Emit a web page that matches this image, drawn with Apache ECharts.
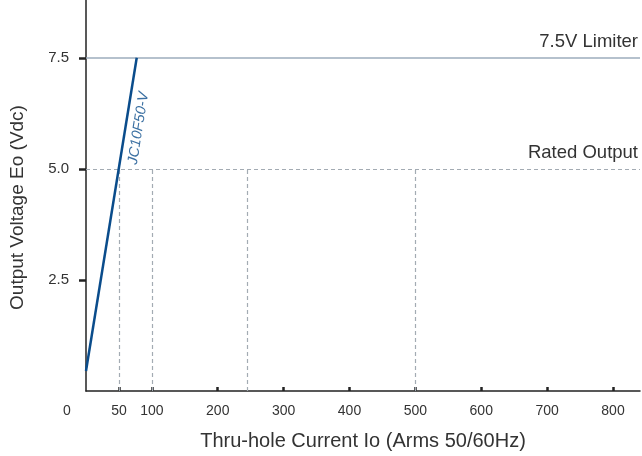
<!DOCTYPE html>
<html><head><meta charset="utf-8">
<script src="https://cdn.jsdelivr.net/npm/echarts@6/dist/echarts.min.js"></script>
<style>html,body{margin:0;padding:0;background:#fff}#c{width:642px;height:456px}</style>
</head><body><div id="c"></div>
<script>
const xLabelValues = [0, 50, 100, 200, 300, 400, 500, 600, 700, 800];
const xTickValues = [50, 100, 200, 300, 400, 500, 600, 700, 800];
const yTickValues = [2.5, 5.0, 7.5];
const curveName = 'JC10F50-V';
const curvePoints = [[0, 0.45], [77, 7.5]];
const curveLabelPoint = [[60.2, 5.96]];
const limiterVoltage = 7.5;
const limiterLabel = '7.5V Limiter';
const ratedVoltage = 5.0;
const ratedLabel = 'Rated Output';
const ratedCurrents = [50, 100, 245, 500];
const xTitle = 'Thru-hole Current Io (Arms 50/60Hz)';
const yTitle = 'Output Voltage Eo (Vdc)';

const font = 'Liberation Sans, Arial, sans-serif';
const chart = echarts.init(document.getElementById('c'), null, {renderer: 'canvas'});
chart.setOption({
  animation: false,
  grid: {left: 86, right: 2, top: 0, bottom: 65, outerBoundsMode: 'none', containLabel: false},
  xAxis: {
    type: 'value', min: 0, max: 841,
    name: xTitle, nameLocation: 'middle', nameGap: 40,
    nameTextStyle: {fontFamily: font, fontSize: 20, color: '#333'},
    axisLine: {lineStyle: {color: '#222', width: 1.5}},
    splitLine: {show: false},
    axisTick: {show: true, inside: true, length: 4, customValues: xTickValues, lineStyle: {color: '#222', width: 2.5}},
    axisLabel: {
      customValues: xLabelValues, margin: 13,
      fontFamily: font, fontSize: 14, color: '#333',
      formatter: v => v === 0 ? '{z|0}' : String(v),
      rich: {z: {fontFamily: font, fontSize: 14, color: '#333', padding: [0, 38, 0, 0]}}
    }
  },
  yAxis: {
    type: 'value', min: 0, max: 8.8,
    name: yTitle, nameLocation: 'middle', nameGap: 59, nameRotate: 90,
    nameTextStyle: {fontFamily: font, fontSize: 19, color: '#333', padding: [0, 24, 0, 0]},
    axisLine: {show: true, lineStyle: {color: '#222', width: 1.5}},
    splitLine: {show: false},
    axisTick: {show: true, length: 7, customValues: yTickValues, lineStyle: {color: '#222', width: 2.5}},
    axisLabel: {customValues: yTickValues, margin: 17, fontFamily: font, fontSize: 15, color: '#333',
      formatter: v => v.toFixed(1)}
  },
  series: [
    {
      type: 'line', name: curveName, data: curvePoints, symbol: 'none',
      lineStyle: {color: '#0a4c8b', width: 2.5}, z: 5,
      markLine: {
        silent: true, symbol: 'none',
        data: [
          {yAxis: limiterVoltage, lineStyle: {type: 'solid', color: '#9cadbd', width: 1.5},
           label: {show: true, position: 'insideEndTop', formatter: limiterLabel, distance: [2, 6],
                   fontFamily: font, fontSize: 18.5, color: '#333'}},
          {yAxis: ratedVoltage, lineStyle: {type: [4, 3], color: '#a3abb3', width: 1.2},
           label: {show: true, position: 'insideEndTop', formatter: ratedLabel, distance: [2, 6],
                   fontFamily: font, fontSize: 18.5, color: '#333'}}
        ].concat(ratedCurrents.map(c => [
          {coord: [c, 0], lineStyle: {type: [4, 3], color: '#a3abb3', width: 1.2}, label: {show: false}},
          {coord: [c, ratedVoltage]}
        ]))
      }
    },
    {
      type: 'scatter', data: curveLabelPoint, symbolSize: 0, silent: true, z: 6,
      label: {show: true, formatter: curveName, rotate: 81, position: 'inside', offset: [0, 13],
              fontFamily: font, fontSize: 14.5, fontStyle: 'italic', color: '#0a4c8b'}
    }
  ]
});
</script></body></html>
